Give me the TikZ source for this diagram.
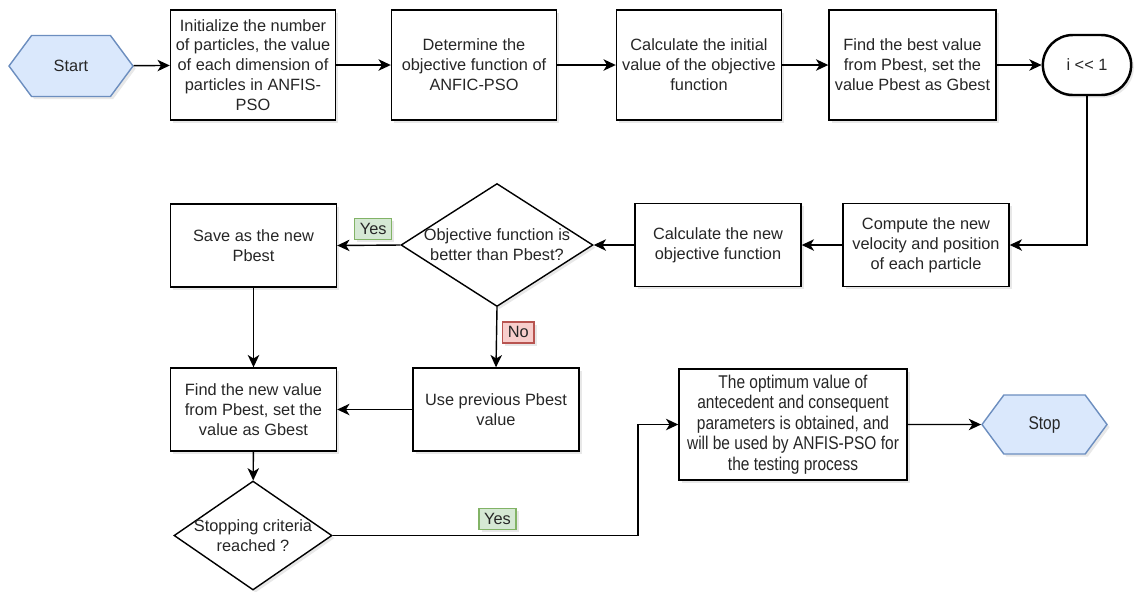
\documentclass[tikz,border=0pt]{standalone}
\usepackage{fontspec}
\setmainfont{Liberation Sans}
\newfontfamily\narrowfont[FakeStretch=0.84]{Liberation Sans}
\usetikzlibrary{shapes.geometric,shapes.misc,shapes.symbols,arrows.meta,shadows}

\definecolor{termfill}{HTML}{DAE8FC}
\definecolor{termline}{HTML}{6C8EBF}
\definecolor{yesfill}{HTML}{D5E8D4}
\definecolor{yesline}{HTML}{82B366}
\definecolor{nofill}{HTML}{F8CECC}
\definecolor{noline}{HTML}{B85450}
\definecolor{inktext}{HTML}{262626}

\newcommand{\boxfont}{\fontsize{9.3}{11.3}\selectfont}
\newcommand{\narrowbox}{\narrowfont\fontsize{10.5}{11.6}\selectfont}

\begin{document}
\begin{tikzpicture}
    \tikzset{
        softshadow/.style={drop shadow={opacity=0.18, shadow xshift=1.5pt, shadow yshift=-1.5pt}},
        stepbox/.style={draw, line width=0.8pt, fill=white, softshadow, align=center,
            text=inktext, font=\boxfont, minimum width=3.3cm, minimum height=2.2cm, inner sep=2pt},
        midbox/.style={stepbox, minimum width=3.32cm, minimum height=1.66cm},
        hexterm/.style={signal, signal to=east and west, signal pointer angle=107,
            draw=termline, line width=0.8pt, fill=termfill, softshadow, text=inktext,
            minimum width=2.48cm, minimum height=1.22cm, inner sep=0pt},
        loopterm/.style={rounded rectangle, draw, line width=1.4pt, fill=white, softshadow,
            text=inktext, font=\boxfont, minimum width=2cm, minimum height=1.2cm},
        decision/.style={diamond, draw, line width=0.8pt, fill=white, softshadow, align=center,
            text=inktext, font=\boxfont, inner sep=0pt, inner xsep=-1cm},
        yeslabel/.style={draw=yesline, fill=yesfill, text=inktext, font=\boxfont,
            inner xsep=3pt, inner ysep=1pt, minimum height=11.9pt, softshadow},
        nolabel/.style={yeslabel, draw=noline, fill=nofill},
        flow/.style={-{Stealth[length=7pt,width=6.5pt,inset=2pt]}, line width=0.8pt},
    }
    \useasboundingbox (0,0) rectangle (22.78,-11.82);

    % Top row
    \node[hexterm, font=\boxfont] (start) at (1.42,-1.32) {Start};
    \node[stepbox] (init) at (5.06,-1.30) {Initialize the number\\of particles, the value\\of each dimension of\\particles in ANFIS-\\PSO};
    \node[stepbox] (objfun) at (9.48,-1.30) {Determine the\\objective function of\\ANFIC-PSO};
    \node[stepbox] (initval) at (13.98,-1.30) {Calculate the initial\\value of the objective\\function};
    \node[stepbox, minimum width=3.34cm] (gbest) at (18.25,-1.30) {Find the best value\\from Pbest, set the\\value Pbest as Gbest};
    \node[loopterm] (iter) at (21.74,-1.30) {i {<}{<} 1};

    % Middle row
    \node[midbox] (velocity) at (18.52,-4.90) {Compute the new\\velocity and position\\of each particle};
    \node[midbox] (newobj) at (14.36,-4.90) {Calculate the new\\objective function};
    \node[decision, minimum width=3.84cm, minimum height=2.46cm] (better) at (9.94,-4.90) {Objective function is\\better than Pbest?};
    \node[midbox] (savebest) at (5.07,-4.91) {Save as the new\\Pbest};

    % Bottom rows
    \node[midbox] (prevbest) at (9.92,-8.19) {Use previous Pbest\\value};
    \node[midbox] (newgbest) at (5.07,-8.19) {Find the new value\\from Pbest, set the\\value as Gbest};
    \node[decision, minimum width=3.16cm, minimum height=2.18cm] (stopcrit) at (5.06,-10.71) {Stopping criteria\\reached ?};
    \node[stepbox, font=\narrowbox, minimum width=4.56cm, minimum height=2.22cm] (optimum) at (15.86,-8.49) {The optimum value of\\antecedent and consequent\\parameters is obtained, and\\will be used by ANFIS-PSO for\\the testing process};
    \node[hexterm, font=\narrowbox, minimum width=2.5cm, minimum height=1.18cm] (stop) at (20.89,-8.49) {Stop};
    \coordinate (yesbend) at (12.76,-10.71);

    % Connectors
    \draw[flow] (start) -- (init);
    \draw[flow] (init) -- (objfun);
    \draw[flow] (objfun) -- (initval);
    \draw[flow] (initval) -- (gbest);
    \draw[flow] (gbest) -- (iter);
    \draw[flow] (iter.south) |- (velocity.east);
    \draw[flow] (velocity) -- (newobj);
    \draw[flow] (newobj) -- (better);
    \draw[flow] (better.west) -- node[yeslabel, above=3pt, pos=0.43] (yesa) {Yes} (savebest.east);
    \draw[flow] (better.south) -- node[nolabel, right=3pt, pos=0.42] (noa) {No} (prevbest.north);
    \draw[flow] (savebest) -- (newgbest);
    \draw[flow] (prevbest) -- (newgbest);
    \draw[flow] (newgbest) -- (stopcrit);
    \draw[flow] (stopcrit.east) -- node[yeslabel, above=3pt, pos=0.54] (yesb) {Yes} (yesbend |- stopcrit.east) |- (optimum.west);
    \draw[flow] (optimum) -- (stop);
\end{tikzpicture}
\end{document}
